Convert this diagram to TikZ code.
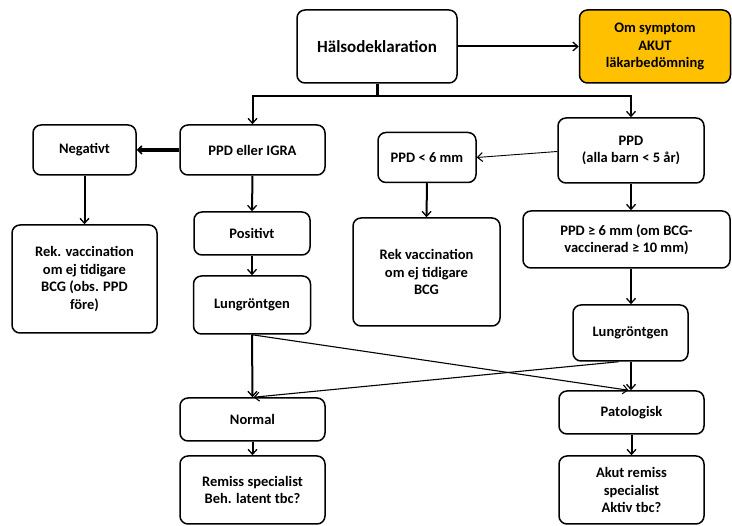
\documentclass[tikz,border=0pt]{standalone}
\usepackage{fontspec}
\setmainfont{Carlito}
\usetikzlibrary{arrows.meta}
\definecolor{gold}{HTML}{FFC000}
\tikzset{
  box/.style={draw=black, line width=1.5pt, rounded corners=8pt, align=center,
    font=\fontsize{14.5}{17.5}\selectfont\bfseries, inner sep=2pt},
  conn/.style={line width=2pt, -{Straight Barb[length=5pt,width=9pt,line width=1.3pt]}},
  thinconn/.style={line width=1.1pt, -{Straight Barb[length=5pt,width=9pt,line width=1.1pt]}},
  heavyconn/.style={line width=3.5pt, -{Straight Barb[length=4pt,width=8pt,line width=1.6pt]}},
}
\begin{document}
\begin{tikzpicture}[x=1pt,y=-1pt]
\useasboundingbox (0,0) rectangle (732,526);
% nodes
\node[box, minimum width=160pt, minimum height=73pt, font=\fontsize{17}{20}\selectfont\bfseries] (hd) at (377,46.5) {Hälsodeklaration};
\node[box, fill=gold, minimum width=151pt, minimum height=73pt] (om) at (655,46.5) {Om symptom\\AKUT\\läkarbedömning};
\node[box, minimum width=145pt, minimum height=50pt] (ppdi) at (252.5,150) {PPD eller IGRA};
\node[box, minimum width=103pt, minimum height=50pt] (neg) at (84.5,150) {Negativt};
\node[box, minimum width=145pt, minimum height=108pt] (rek1) at (84.5,279) {Rek. vaccination\\om ej tidigare\\BCG (obs. PPD\\före)};
\node[box, minimum width=116pt, minimum height=43pt] (pos) at (252,233.5) {Positivt};
\node[box, minimum width=117pt, minimum height=58pt] (lung1) at (252,305) {Lungröntgen};
\node[box, minimum width=145pt, minimum height=43pt] (norm) at (252.5,419.5) {Normal};
\node[box, minimum width=145pt, minimum height=68pt] (rem) at (252.5,490) {Remiss specialist\\Beh. latent tbc?};
\node[box, minimum width=98pt, minimum height=50pt] (ppd6) at (427,157.5) {PPD < 6 mm};
\node[box, minimum width=146pt, minimum height=65pt] (ppd) at (631,150.5) {PPD\\(alla barn < 5 år)};
\node[box, minimum width=147pt, minimum height=108pt] (rek2) at (426.5,272) {Rek vaccination\\om ej tidigare\\BCG};
\node[box, minimum width=207pt, minimum height=57pt] (ppdg) at (626.5,239.5) {PPD ≥ 6 mm (om BCG-\\vaccinerad ≥ 10 mm)};
\node[box, minimum width=115pt, minimum height=56pt] (lung2) at (630.5,333) {Lungröntgen};
\node[box, minimum width=145pt, minimum height=43pt] (pat) at (631.5,412.5) {Patologisk};
\node[box, minimum width=145pt, minimum height=68pt] (akut) at (631.5,490) {Akut remiss\\specialist\\Aktiv tbc?};
% connectors
\coordinate (split) at (hd.south |- 0,96);
\draw[line width=3pt] (hd.south) -- (split);
\draw[conn] (hd.east) -- (om.west);
\draw[conn, rounded corners=0pt] (split) -| (ppdi.north);
\draw[conn] (split) -| (ppd.north);
\draw[heavyconn] (ppdi.west) -- (neg.east);
\draw[conn] (neg.south) -- (rek1.north);
\draw[conn] (ppdi.south) -- (pos.north);
\draw[conn] (pos.south) -- (lung1.north);
\draw[conn] (lung1.south) -- (norm.north);
\draw[conn] (norm.south) -- (rem.north);
\draw[thinconn, line width=0.9pt] ([yshift=-1pt]ppd.west) -- ([yshift=0pt]ppd6.east);
\draw[conn] (ppd6.south) -- (rek2.north);
\draw[conn] (ppd.south) -- (ppd.south |- ppdg.north);
\draw[conn] (ppd.south |- ppdg.south) -- (ppd.south |- lung2.north);
\draw[conn] (ppd.south |- lung2.south) -- (ppd.south |- pat.north);
\draw[conn] (pat.south) -- (akut.north);
\draw[thinconn] (lung1.south) -- ([xshift=-3pt]pat.north);
\draw[thinconn] ([xshift=-12pt]lung2.south) -- ([xshift=1pt]norm.north);
\end{tikzpicture}
\end{document}
